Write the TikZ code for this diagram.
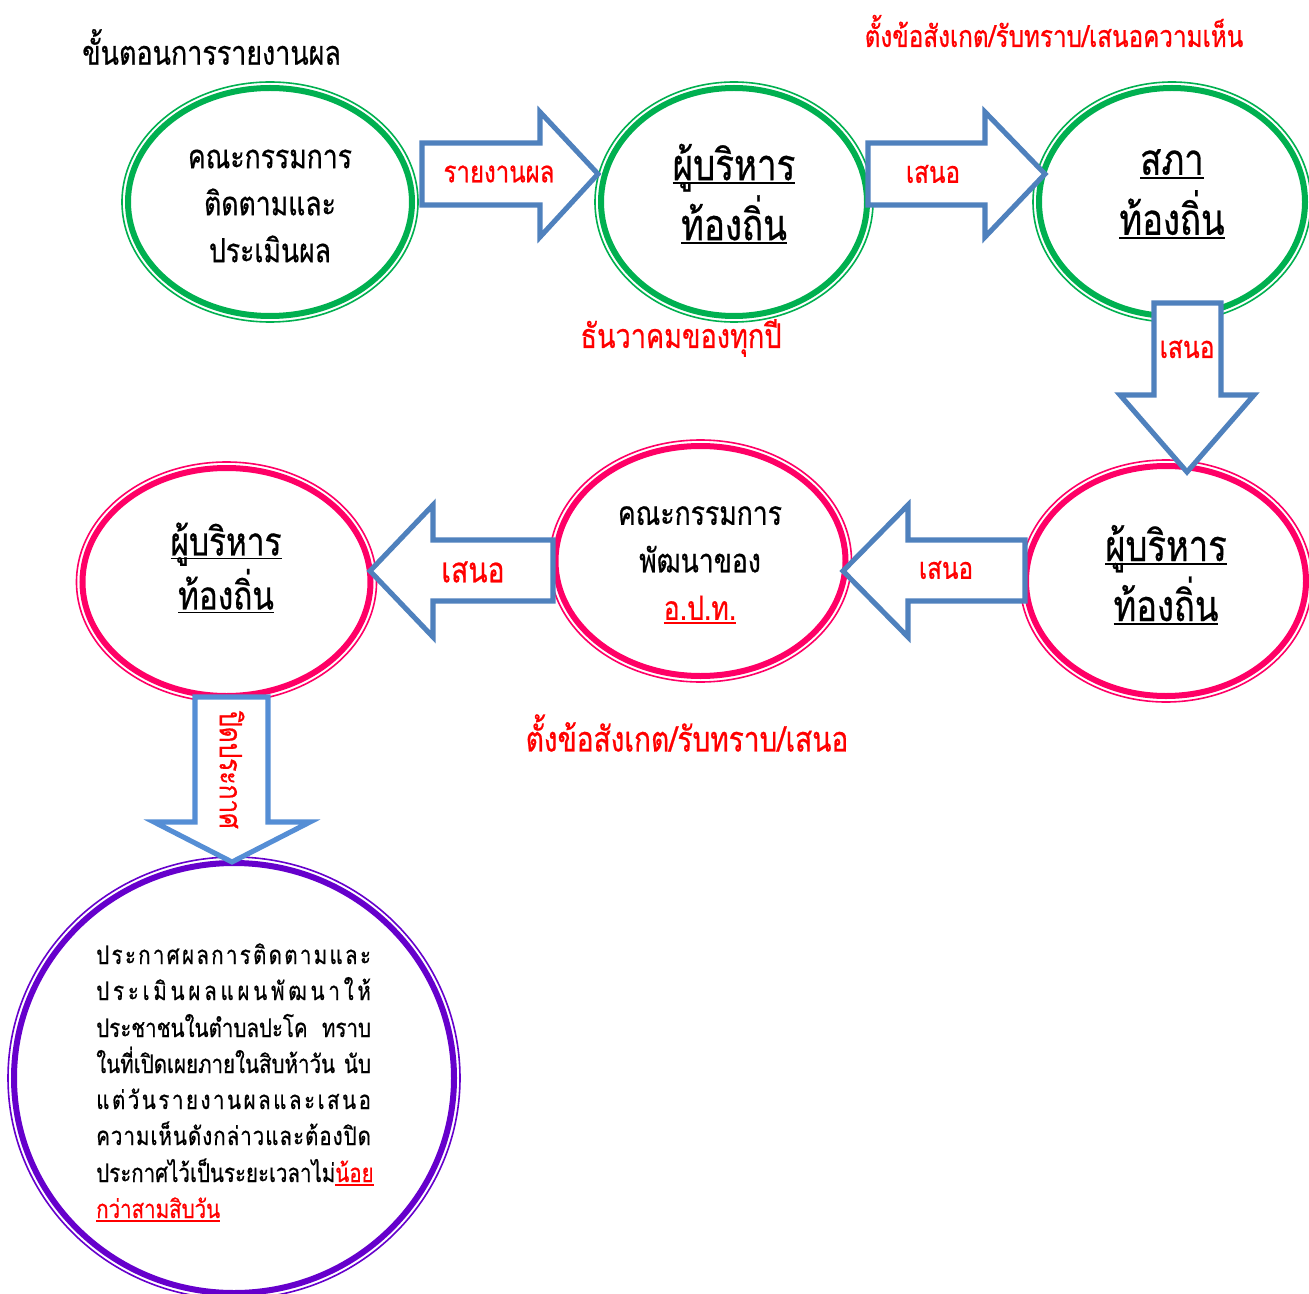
\documentclass[tikz,border=0pt]{standalone}
\usepackage{fontspec}
\newfontfamily\thai[Script=Thai,FakeStretch=0.8,FakeBold=0.6]{Loma}
\newcommand\fsz[2]{\fontsize{#1}{#2}\selectfont}
\newcommand\ul[1]{\setbox0\hbox{#1}\rlap{\rule[-3pt]{\wd0}{1.4pt}}\box0}
\definecolor{grn}{HTML}{00B050}
\definecolor{pnk}{HTML}{FF0066}
\definecolor{prp}{HTML}{6600CC}
\definecolor{abl}{HTML}{4F81BD}
\definecolor{lbl}{HTML}{558ED5}
\definecolor{rd}{HTML}{FF0000}
\begin{document}
\begin{tikzpicture}[x=0.75pt,y=-0.75pt,font=\thai,
  thick ring/.style={draw=#1,line width=4.5pt},
  thin ring/.style={draw=#1,line width=1.2pt},
  blockarrow/.style={draw=#1,line width=3.8pt,fill=white,line join=miter},
  lab/.style={text=rd,inner sep=0pt},
  body/.style={align=center,inner sep=0pt},
  para/.style={anchor=base west,inner sep=0pt,font=\thai\fsz{19.2}{22}}]
\useasboundingbox[fill=white] (0,0) rectangle (1309,1294);
\begin{scope}
\clip (0,0) rectangle (1309,1294);
% ellipses
\draw[thin ring=grn] (270,202) ellipse [x radius=148,y radius=120];
\draw[thick ring=grn] (270,202) ellipse [x radius=142,y radius=114];
\draw[thin ring=grn] (734,202) ellipse [x radius=139,y radius=120];
\draw[thick ring=grn] (734,202) ellipse [x radius=133,y radius=114];
\draw[thin ring=grn] (1172,202) ellipse [x radius=139,y radius=120];
\draw[thick ring=grn] (1172,202) ellipse [x radius=133,y radius=114];
\draw[thin ring=pnk] (1166,581) ellipse [x radius=146,y radius=121];
\draw[thick ring=pnk] (1166,581) ellipse [x radius=140,y radius=115];
\draw[thin ring=pnk] (700.5,561) ellipse [x radius=151,y radius=121];
\draw[thick ring=pnk] (700.5,561) ellipse [x radius=145,y radius=115];
\draw[thin ring=pnk] (226.5,582) ellipse [x radius=150,y radius=120];
\draw[thick ring=pnk] (226.5,582) ellipse [x radius=144,y radius=114];
\draw[thin ring=prp] (234,1078) ellipse [x radius=226,y radius=221];
\draw[thick ring=prp] (234,1078) ellipse [x radius=220,y radius=215];
\end{scope}
% block arrows
\draw[blockarrow=abl] (422,143) -- (540,143) -- (540,112) -- (598,174) -- (540,237) -- (540,205) -- (422,205) -- cycle;
\draw[blockarrow=abl] (868,143) -- (985,143) -- (985,112) -- (1045,174) -- (985,237) -- (985,205) -- (868,205) -- cycle;
\draw[blockarrow=abl] (1154,303) -- (1221,303) -- (1221,395) -- (1254,395) -- (1187,472) -- (1120,395) -- (1154,395) -- cycle;
\draw[blockarrow=abl] (1025,540) -- (908,540) -- (908,505) -- (843,571) -- (908,637) -- (908,601) -- (1025,601) -- cycle;
\draw[blockarrow=abl] (553,540) -- (433,540) -- (433,505) -- (370,571) -- (433,637) -- (433,601) -- (553,601) -- cycle;
\draw[blockarrow=lbl] (195,697) -- (268,697) -- (268,822) -- (310,822) -- (232,862) -- (154,822) -- (195,822) -- cycle;
% texts
\node[anchor=west,inner sep=0pt,font=\thai\fsz{25.2}{28}] (title) at (82,47) {ขั้นตอนการรายงานผล};
\node[lab,font=\thai\fsz{22.7}{26}] (t1) at (1054,31) {ตั้งข้อสังเกต/รับทราบ/เสนอความเห็น};
\node[lab,font=\thai\fsz{22.5}{26}] (a1) at (499,174) {รายงานผล};
\node[lab,font=\thai\fsz{22.7}{26}] (a2) at (933,174) {เสนอ};
\node[lab,font=\thai\fsz{23}{26}] (a3) at (1187,349) {เสนอ};
\node[lab,font=\thai\fsz{25.4}{28}] (t2) at (681,338) {ธันวาคมของทุกปี};
\node[lab,font=\thai\fsz{22.7}{26}] (a4) at (946,570) {เสนอ};
\node[lab,font=\thai\fsz{26.5}{28}] (a5) at (473,572) {เสนอ};
\node[lab,font=\thai\fsz{26.3}{28}] (t3) at (687,733) {ตั้งข้อสังเกต/รับทราบ/เสนอ};
\node[lab,rotate=-90,font=\thai\fsz{23}{26}] (a6) at (232,770) {ปิดประกาศ};
\node[body,font=\thai\fsz{24.9}{35.25}] (n1) at (270,206) {คณะกรรมการ\\ติดตามและ\\ประเมินผล};
\node[body,font=\thai\fsz{32.7}{45}] (n2) at (734,194) {\ul{ผู้บริหาร}\\\ul{ท้องถิ่น}};
\node[body,font=\thai\fsz{32.5}{45}] (n3) at (1172,194) {\ul{สภา}\\\ul{ท้องถิ่น}};
\node[body,font=\thai\fsz{32.4}{45}] (n4) at (1166,575) {\ul{ผู้บริหาร}\\\ul{ท้องถิ่น}};
\node[body,font=\thai\fsz{24.9}{35.6}] (n5) at (700,565) {คณะกรรมการ\\พัฒนาของ\\\textcolor{rd}{\ul{อ.ป.ท.}}};
\node[body,font=\thai\fsz{29.6}{40.5}] (n6) at (226,568) {\ul{ผู้บริหาร}\\\ul{ท้องถิ่น}};
\node[para] (p1) at (96,964) {\hbox to 206pt{ป\hfill ร\hfill ะ\hfill ก\hfill า\hfill ศ\hfill ผ\hfill ล\hfill ก\hfill า\hfill ร\hfill ติ\hfill ด\hfill ต\hfill า\hfill ม\hfill แ\hfill ล\hfill ะ}};
\node[para] (p2) at (96,1000) {\hbox to 206pt{ป\hfill ร\hfill ะ\hfill เ\hfill มิ\hfill น\hfill ผ\hfill ล\hfill แ\hfill ผ\hfill น\hfill พั\hfill ฒ\hfill น\hfill า\hfill ใ\hfill ห้}};
\node[para] (p3) at (96,1037) {\hbox to 206pt{ประชาชนในตำบลปะโค\hfill ทราบ}};
\node[para] (p4) at (96,1073) {\hbox to 206pt{ในที่เปิดเผยภายในสิบห้าวัน\hfill นับ}};
\node[para] (p5) at (96,1109) {\hbox to 206pt{แ\hfill ต่\hfill วั\hfill น\hfill ร\hfill า\hfill ย\hfill ง\hfill า\hfill น\hfill ผ\hfill ล\hfill แ\hfill ล\hfill ะ\hfill เ\hfill ส\hfill น\hfill อ}};
\node[para] (p6) at (96,1145) {\hbox to 206pt{ค\hfill ว\hfill า\hfill ม\hfill เ\hfill ห็\hfill น\hfill ดั\hfill ง\hfill ก\hfill ล่\hfill า\hfill ว\hfill แ\hfill ล\hfill ะ\hfill ต้\hfill อ\hfill ง\hfill ปิ\hfill ด}};
\node[para] (p7) at (96,1182) {ประกาศไว้เป็นระยะเวลาไม่\textcolor{rd}{\ul{น้อย}}};
\node[para] (p8) at (96,1218) {\textcolor{rd}{\ul{กว่าสามสิบวัน}}};
\end{tikzpicture}
\end{document}
